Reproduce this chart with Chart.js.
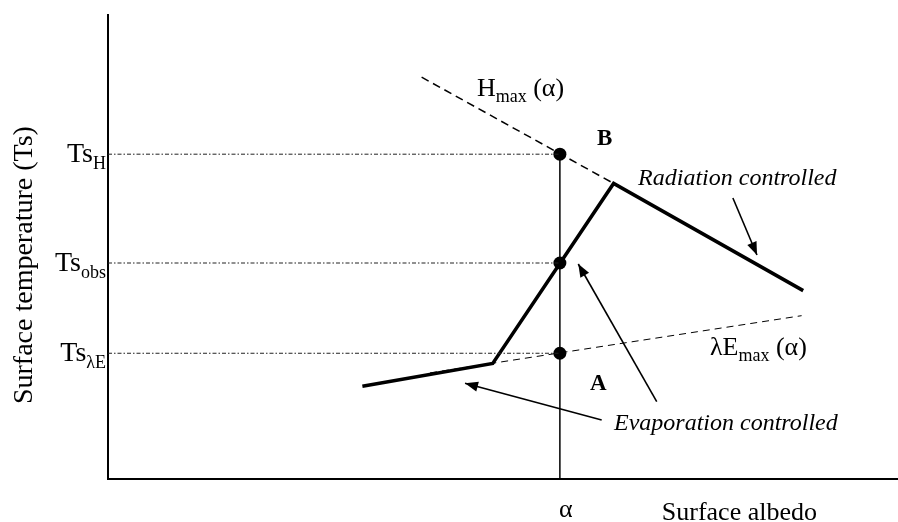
<!DOCTYPE html>
<html>
<head>
<meta charset="utf-8">
<script src="https://cdn.jsdelivr.net/npm/chart.js@4.4.1/dist/chart.umd.min.js"></script>
<style>
  html, body { margin: 0; padding: 0; background: #fff; }
  #wrap { width: 898px; height: 522px; }
</style>
</head>
<body>
<div id="wrap"><canvas id="chart" width="898" height="522"></canvas></div>
<script>
// Schematic: surface temperature vs surface albedo (axes 0..1)
const alpha = 0.572;
const tsLevels = [0.700, 0.4655, 0.271];           // Ts_H, Ts_obs, Ts_lambdaE
const tsNames = [['Ts', 'H'], ['Ts', 'obs'], ['Ts', 'λE']];

const observedX = [0.322, 0.487, 0.640, 0.880];     // thick piecewise curve
const observedY = [0.200, 0.249, 0.637, 0.406];

const hmaxX = [0.397, 0.640];                       // H_max(alpha) dashed
const hmaxY = [0.866, 0.637];
const lemaxX = [0.4076, 0.878];                     // lambdaE_max(alpha) dashed
const lemaxY = [0.2287, 0.352];

// arrows: [startX, startY, tipX, tipY]
const arrows = [
    [0.791, 0.6056, 0.8215, 0.4828],  // Radiation controlled
    [0.6946, 0.1666, 0.5953, 0.4634], // to Ts_obs
    [0.6249, 0.1272, 0.4519, 0.2063]  // Evaporation controlled
];

const pts = (xs, ys) => xs.map((x, i) => ({ x: x, y: ys[i] }));

const datasets = [];

// dash-dot reference levels
tsLevels.forEach(y => {
    datasets.push({
        data: [{ x: 0, y: y }, { x: alpha, y: y }],
        borderColor: '#222', borderWidth: 1, borderDash: [4, 2, 1.5, 2],
        pointRadius: 0
    });
});

// vertical line at alpha
datasets.push({
    data: [{ x: alpha, y: 0 }, { x: alpha, y: tsLevels[0] }],
    borderColor: '#000', borderWidth: 1.5, pointRadius: 0
});

datasets.push({
    data: pts(hmaxX, hmaxY),
    borderColor: '#000', borderWidth: 1.5, borderDash: [8, 5], pointRadius: 0
});
datasets.push({
    data: pts(lemaxX, lemaxY),
    borderColor: '#000', borderWidth: 1, borderDash: [7, 5], pointRadius: 0
});

datasets.push({
    data: pts(observedX, observedY),
    borderColor: '#000', borderWidth: 3.5, pointRadius: 0,
    borderJoinStyle: 'miter'
});

arrows.forEach(a => {
    datasets.push({
        data: [{ x: a[0], y: a[1] }, { x: a[2], y: a[3] }],
        borderColor: '#000', borderWidth: 1.6, pointRadius: 0, isArrow: true
    });
});

// the three points on the alpha line
datasets.push({
    data: tsLevels.map(y => ({ x: alpha, y: y })),
    showLine: false, pointRadius: 6.5, pointBackgroundColor: '#000',
    pointBorderColor: '#000', pointBorderWidth: 0
});

// arrowheads at the tip of each arrow dataset
const arrowHeads = {
    id: 'arrowHeads',
    afterDatasetsDraw(chart) {
        const ctx = chart.ctx;
        chart.data.datasets.forEach((ds, i) => {
            if (!ds.isArrow) return;
            const meta = chart.getDatasetMeta(i);
            const p0 = meta.data[0], p1 = meta.data[1];
            const ang = Math.atan2(p1.y - p0.y, p1.x - p0.x);
            const len = 13, half = 5;
            ctx.save();
            ctx.translate(p1.x, p1.y);
            ctx.rotate(ang);
            ctx.beginPath();
            ctx.moveTo(0, 0);
            ctx.lineTo(-len, -half);
            ctx.lineTo(-len, half);
            ctx.closePath();
            ctx.fillStyle = '#000';
            ctx.fill();
            ctx.restore();
        });
    }
};

const serif = '"Liberation Serif", "DejaVu Serif", serif';

function drawSub(ctx, x, y, main, sub, size, subSize, align, after) {
    ctx.font = size + 'px ' + serif;
    const w1 = ctx.measureText(main).width;
    ctx.font = subSize + 'px ' + serif;
    const w2 = ctx.measureText(sub).width;
    let w3 = 0;
    if (after) { ctx.font = size + 'px ' + serif; w3 = ctx.measureText(after).width; }
    let left = x;
    if (align === 'right') left = x - w1 - w2 - w3;
    ctx.textAlign = 'left';
    ctx.textBaseline = 'alphabetic';
    ctx.font = size + 'px ' + serif;
    ctx.fillText(main, left, y);
    ctx.font = subSize + 'px ' + serif;
    ctx.fillText(sub, left + w1, y + size * 0.24);
    if (after) {
        ctx.font = size + 'px ' + serif;
        ctx.fillText(after, left + w1 + w2, y);
    }
}

const annotations = {
    id: 'annotations',
    afterDraw(chart) {
        const ctx = chart.ctx;
        const xs = chart.scales.x, ys = chart.scales.y;
        const X = v => xs.getPixelForValue(v);
        const Y = v => ys.getPixelForValue(v);
        ctx.save();
        ctx.fillStyle = '#000';

        // Ts labels left of the axis
        tsLevels.forEach((lv, i) => {
            drawSub(ctx, chart.chartArea.left - 2, Y(lv) + 8, tsNames[i][0], tsNames[i][1], 28, 18, 'right');
        });

        drawSub(ctx, X(0.467), Y(0.825), 'H', 'max', 26, 18, 'left', ' (α)');
        drawSub(ctx, X(0.762), Y(0.267), 'λE', 'max', 26, 18, 'left', ' (α)');

        ctx.textAlign = 'left';
        ctx.font = 'bold 23px ' + serif;
        ctx.fillText('B', X(0.619), Y(0.720));
        ctx.fillText('A', X(0.610), Y(0.192));

        ctx.font = 'italic 24px ' + serif;
        ctx.fillText('Radiation controlled', X(0.671), Y(0.634));
        ctx.fillText('Evaporation controlled', X(0.6405), Y(0.1056));

        ctx.font = '26px ' + serif;
        ctx.textAlign = 'center';
        ctx.fillText('α', X(alpha) + 6, Y(-0.082));
        ctx.textAlign = 'left';
        ctx.fillText('Surface albedo', X(0.701), Y(-0.088));

        // y axis title
        ctx.translate(chart.chartArea.left - 76, Y(0.461));
        ctx.rotate(-Math.PI / 2);
        ctx.textAlign = 'center';
        ctx.font = '28px ' + serif;
        ctx.fillText('Surface temperature (Ts)', 0, 0);
        ctx.restore();
    }
};

new Chart(document.getElementById('chart'), {
    type: 'scatter',
    data: { datasets: datasets },
    options: {
        responsive: false,
        animation: false,
        showLine: true,
        layout: { autoPadding: false, padding: { left: 108, top: 15, right: 0, bottom: 43 } },
        plugins: { legend: { display: false }, tooltip: { enabled: false } },
        elements: { line: { tension: 0, borderCapStyle: 'butt' } },
        scales: {
            x: {
                type: 'linear', min: 0, max: 1,
                ticks: { display: false },
                grid: { display: false, drawTicks: false, tickLength: 0 },
                border: { display: true, color: '#000', width: 2 }
            },
            y: {
                type: 'linear', min: 0, max: 1,
                ticks: { display: false },
                grid: { display: false, drawTicks: false, tickLength: 0 },
                border: { display: true, color: '#000', width: 2 }
            }
        }
    },
    plugins: [arrowHeads, annotations]
});
</script>
</body>
</html>
